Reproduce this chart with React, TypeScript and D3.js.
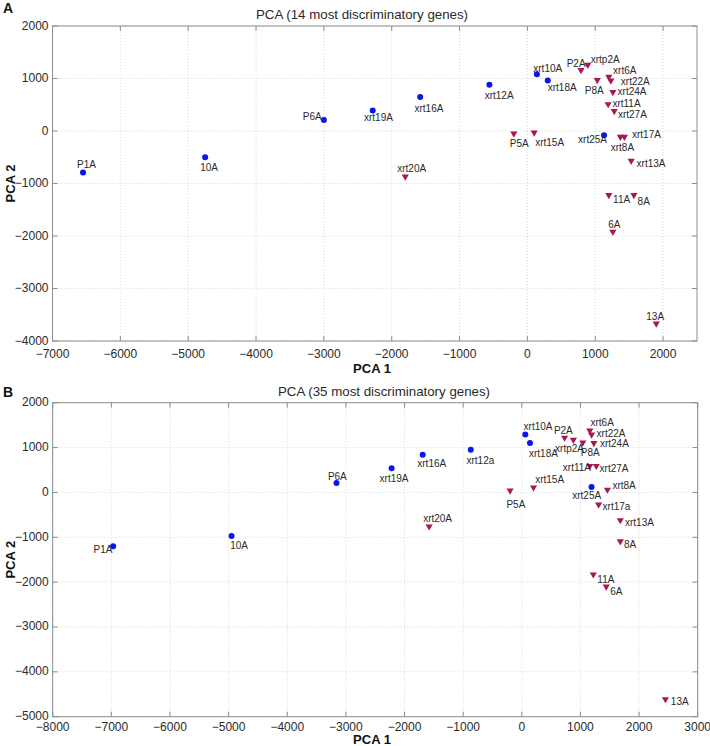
import React from "react";
import * as d3 from "d3";

// ---------- Panel A data (14 genes) ----------
const namesA = ["P1A","10A","P6A","xrt19A","xrt16A","xrt12A","xrt10A","xrt18A","xrt25A",
  "P2A","xrtp2A","P8A","xrt6A","xrt22A","xrt24A","xrt11A","xrt27A","P5A","xrt15A","xrt17A","xrt8A","xrt13A","11A","8A","6A","13A","xrt20A"];
const pc1A = [-6550,-4750,-3000,-2280,-1580,-560,140,300,1130,
  790,890,1030,1200,1230,1260,1190,1280,-200,100,1430,1370,1530,1200,1570,1260,1900,-1800];
const pc2A = [-790,-500,210,390,650,880,1080,960,-80,
  1160,1260,970,1030,960,740,510,380,-50,-30,-110,-110,-570,-1220,-1220,-1920,-3670,-870];
const groupA = ["c","c","c","c","c","c","c","c","c",
  "t","t","t","t","t","t","t","t","t","t","t","t","t","t","t","t","t","t"];
const xTicksA = [-7000,-6000,-5000,-4000,-3000,-2000,-1000,0,1000,2000];
const yTicksA = [2000,1000,0,-1000,-2000,-3000,-4000];

// ---------- Panel B data (35 genes) ----------
const namesB = ["P1A","10A","P6A","xrt19A","xrt16A","xrt12a","xrt10A","xrt18A","xrt25A",
  "xrt20A","P2A","xrtp2A","P8A","xrt6A","xrt22A","xrt24A","xrt11A","xrt27A","xrt15A","P5A","xrt8A","xrt17a","xrt13A","8A","11A","6A","13A"];
const pc1B = [-6970,-4950,-3160,-2220,-1690,-870,60,140,1190,
  -1580,730,880,1040,1160,1190,1230,1160,1270,200,-200,1460,1310,1680,1680,1220,1440,2450];
const pc2B = [-1200,-970,210,540,840,950,1290,1100,120,
  -760,1220,1170,1110,1380,1290,1100,590,590,110,40,60,-270,-620,-1090,-1830,-2100,-4610];
const groupB = ["c","c","c","c","c","c","c","c","c",
  "t","t","t","t","t","t","t","t","t","t","t","t","t","t","t","t","t","t"];
const xTicksB = [-8000,-7000,-6000,-5000,-4000,-3000,-2000,-1000,0,1000,2000,3000];
const yTicksB = [2000,1000,0,-1000,-2000,-3000,-4000,-5000];

// ---------- label layout (pixel offsets of text start / baseline from marker) ----------
const labelOffA: [number, number][] = [
  [-6,-4.5],[-5,14],[-21,0],[-8.7,10.7],[-5.7,14.7],[-4.7,14.3],[-3.6,-2.7],[0,10.4],[-26,7.3],
  [-14.3,-3.6],[3,-2.3],[-12.4,13.6],[4.3,-3.3],[10,4.3],[4.7,3],[4.3,3],[3.7,7.3],[-4,13],[1,13.6],[7.6,1.7],[-9.6,14.3],[5.4,6.4],[4.3,7.6],[3.7,9.6],[-4.7,-3.4],[-10,-4],[-8,-4.6],
];
const labelOffB: [number, number][] = [
  [-19.6,7],[-1.3,13.3],[-8.6,-2.7],[-12,13.6],[-5.4,12.3],[-4.3,14],[-1.7,-5],[-1,13.6],[-19.3,12.3],
  [-6,-4.3],[-10.7,-3.3],[-18.3,12.4],[-2,13.3],[0.7,-4.3],[5,2.7],[6,4.4],[-27,5.4],[3.3,6],[1.7,-4],[-3.6,17.6],[5,-0.4],[4,5.3],[4.7,5.7],[3.7,6.6],[4,8.3],[4,8.7],[5.4,5.6],
];

const FONT = "'Liberation Sans', Arial, sans-serif";
const BLUE = "#0a14f0";
const RED = "#a8174f";
const AXIS = "#8c8c8c";
const GRID = "#cfcfcf";
const TXT = "#2a2a2a";

type PanelProps = {
  letter: string;
  title: string;
  titleX: number;
  titleY: number;
  letterY: number;
  names: string[];
  pc1: number[];
  pc2: number[];
  groups: string[];
  offs: [number, number][];
  xDomain: [number, number];
  yDomain: [number, number];
  xRange: [number, number];
  yRange: [number, number];
  xTicks: number[];
  yTicks: number[];
  xLabelY: number;
  xTickY: number;
};

function Panel(p: PanelProps) {
  const x = d3.scaleLinear().domain(p.xDomain).range(p.xRange);
  const y = d3.scaleLinear().domain(p.yDomain).range(p.yRange);
  const [x0, x1] = p.xRange;
  const [y0, y1] = p.yRange; // y0 bottom, y1 top
  const fmt = d3.format("d");
  const tickLen = 5;
  const tri = d3.symbol().type(d3.symbolTriangle).size(22)();
  return (
    <g>
      <text x={3} y={p.letterY} fontFamily={FONT} fontWeight="bold" fontSize={14} fill="#111">{p.letter}</text>
      <text x={p.titleX} y={p.titleY} textAnchor="middle" fontFamily={FONT} fontSize={13.3} fill={TXT}>{p.title}</text>
      {/* grid */}
      {p.xTicks.map((t) => (
        <line key={"gx" + t} x1={x(t)} x2={x(t)} y1={y1} y2={y0} stroke={GRID} strokeWidth={0.8} strokeDasharray="1,2" />
      ))}
      {p.yTicks.map((t) => (
        <line key={"gy" + t} x1={x0} x2={x1} y1={y(t)} y2={y(t)} stroke={GRID} strokeWidth={0.8} strokeDasharray="1,2" />
      ))}
      {/* box */}
      <rect x={x0} y={y1} width={x1 - x0} height={y0 - y1} fill="none" stroke={AXIS} strokeWidth={1} />
      {/* ticks */}
      {p.xTicks.map((t) => (
        <g key={"tx" + t}>
          <line x1={x(t)} x2={x(t)} y1={y0} y2={y0 - tickLen} stroke={AXIS} />
          <line x1={x(t)} x2={x(t)} y1={y1} y2={y1 + tickLen} stroke={AXIS} />
          <text x={x(t)} y={p.xTickY} textAnchor="middle" fontFamily={FONT} fontSize={12} fill={TXT}>{fmt(t)}</text>
        </g>
      ))}
      {p.yTicks.map((t) => (
        <g key={"ty" + t}>
          <line x1={x0} x2={x0 + tickLen} y1={y(t)} y2={y(t)} stroke={AXIS} />
          <line x1={x1} x2={x1 - tickLen} y1={y(t)} y2={y(t)} stroke={AXIS} />
          <text x={x0 - 4} y={y(t) + 3.5} textAnchor="end" fontFamily={FONT} fontSize={12} fill={TXT}>{fmt(t)}</text>
        </g>
      ))}
      {/* axis labels */}
      <text x={372} y={p.xLabelY} textAnchor="middle" fontFamily={FONT} fontWeight="bold" fontSize={13} fill="#111">PCA 1</text>
      <text transform={`translate(15,${(y0 + y1) / 2}) rotate(-90)`} textAnchor="middle" fontFamily={FONT} fontWeight="bold" fontSize={13} fill="#111">PCA 2</text>
      {/* points */}
      {p.names.map((n, i) => {
        const px = x(p.pc1[i]);
        const py = y(p.pc2[i]);
        return p.groups[i] === "c" ? (
          <circle key={"m" + i} cx={px} cy={py} r={3} fill={BLUE} />
        ) : (
          <path key={"m" + i} d={tri as string} transform={`translate(${px},${py}) rotate(180)`} fill={RED} />
        );
      })}
      {p.names.map((n, i) => (
        <text key={"l" + i} x={x(p.pc1[i]) + p.offs[i][0]} y={y(p.pc2[i]) + p.offs[i][1]} fontFamily={FONT} fontSize={10} fill={TXT}>{n}</text>
      ))}
    </g>
  );
}

export default function App() {
  return (
    <svg width={710} height={746} style={{ position: "absolute", left: 0, top: 0, background: "#fff" }}>
      <rect width={710} height={746} fill="#fff" />
      <Panel letter="A" title="PCA (14 most discriminatory genes)" titleX={362} titleY={19} letterY={13}
        names={namesA} pc1={pc1A} pc2={pc2A} groups={groupA} offs={labelOffA}
        xDomain={[-7000, 2500]} yDomain={[-4000, 2000]} xRange={[52.5, 697]} yRange={[341, 26]}
        xTicks={xTicksA} yTicks={yTicksA} xLabelY={373} xTickY={357.5} />
      <Panel letter="B" title="PCA (35 most discriminatory genes)" titleX={384} titleY={396} letterY={397}
        names={namesB} pc1={pc1B} pc2={pc2B} groups={groupB} offs={labelOffB}
        xDomain={[-8000, 3000]} yDomain={[-5000, 2000]} xRange={[52.7, 697.7]} yRange={[716.7, 402.7]}
        xTicks={xTicksB} yTicks={yTicksB} xLabelY={744} xTickY={730.5} />
    </svg>
  );
}
